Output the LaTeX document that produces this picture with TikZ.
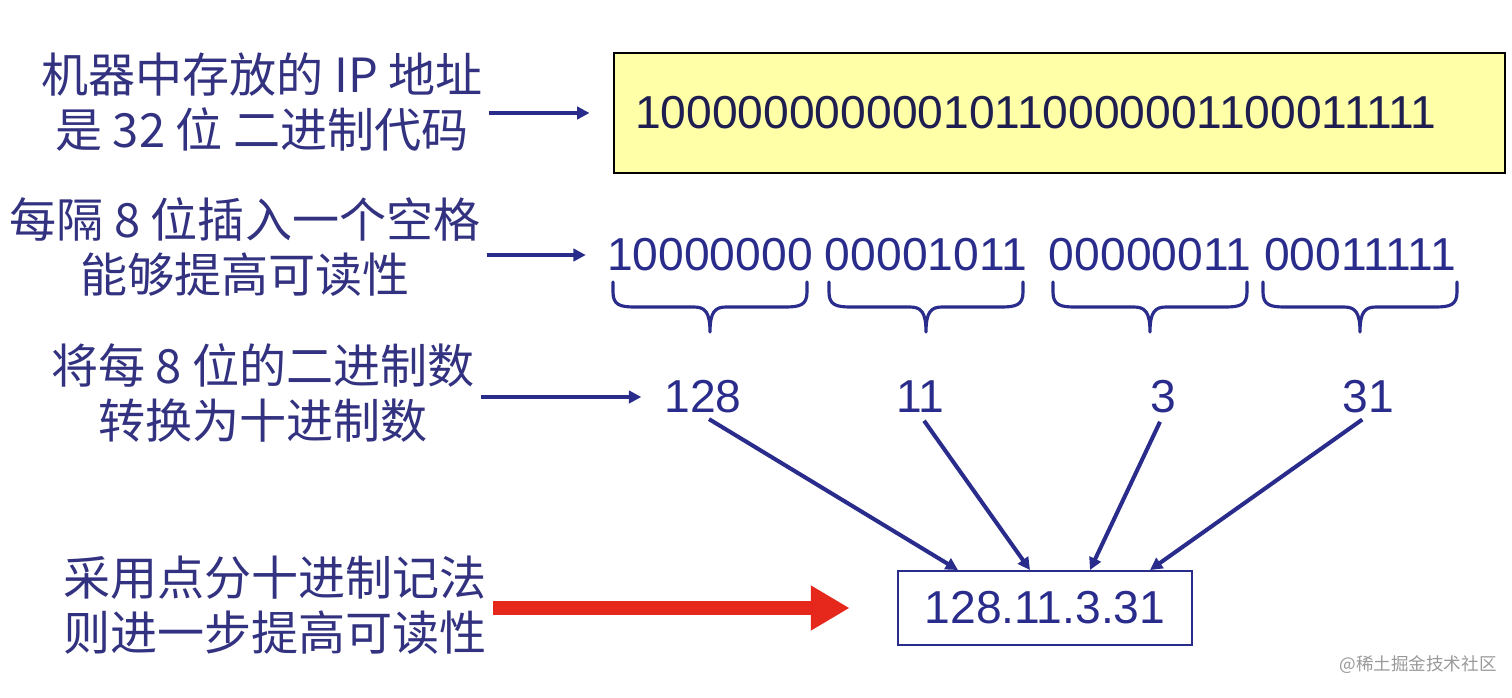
\documentclass[tikz,border=0pt]{standalone}
\usepackage{fontspec}
\setmainfont{Liberation Sans}
\newfontfamily\cjk{Noto Sans CJK SC}
\usetikzlibrary{arrows.meta,calc}
\definecolor{navy}{RGB}{42,44,140}
\definecolor{lbltext}{RGB}{50,50,128}
\definecolor{memo}{RGB}{255,255,168}
\definecolor{hot}{RGB}{230,40,28}
\begin{document}
\begin{tikzpicture}[x=0.02cm, y=-0.02cm,
    lbl/.style={align=center, text=lbltext, font=\cjk\fontsize{26.8}{31}\selectfont},
    bits/.style={text=navy, font=\fontsize{26.3}{30}\selectfont, inner sep=1pt},
    arr/.style={navy, line width=2.3pt, -{Triangle[length=7pt,width=7pt]}},
    brc/.style={navy, line width=1.8pt, line cap=round, line join=round}]
    \useasboundingbox (0,0) rectangle (1512,697);
    % left column
    \node[lbl] (lblstored) at (262,102) {机器中存放的 IP 地址\\是 32 位 二进制代码};
    \node[lbl] (lblspaced) at (245,247) {每隔 8 位插入一个空格\\能够提高可读性};
    \node[lbl] (lbldec) at (263,393) {将每 8 位的二进制数\\转换为十进制数};
    \node[lbl] (lbldot) at (275,605) {采用点分十进制记法\\则进一步提高可读性};
    % binary string
    \node[draw=black, line width=0.8pt, fill=memo, minimum height=2.4cm,
      text width=16.98cm, inner xsep=0.42cm, align=left,
      text={rgb,255:red,30;green,30;blue,80}, font=\fontsize{26.3}{30}\selectfont]
      (bin) at (1059.5,113) {10000000000010110000001100011111};
    % grouped bytes
    \foreach \g/\x/\v in {g1/710/10000000, g2/926/00001011,
        g3/1150/00000011, g4/1360/00011111} {
      \node[bits] (\g) at (\x,255) {\v};
      \draw[brc] ({\x-97},282) -- ({\x-97},292)
        .. controls ({\x-97},305) and ({\x-90},307) .. ({\x-75},307)
        -- ({\x-16},307) .. controls ({\x-5},307) and ({\x},312) .. (\x,332)
        .. controls ({\x},312) and ({\x+5},307) .. ({\x+16},307)
        -- ({\x+75},307) .. controls ({\x+90},307) and ({\x+97},305) .. ({\x+97},292)
        -- ({\x+97},282);
    }
    % decimal values
    \node[draw=navy, line width=1.1pt, fill=white, minimum width=5.88cm,
      minimum height=1.48cm, bits] (dotted) at (1045,608) {128.11.3.31};
    \foreach \n/\x/\v/\d in {n1/703/128/-87, n2/920/11/-15,
        n3/1163/3/45, n4/1368/31/105} {
      \node[bits] (\n) at (\x,397) {\v};
      \draw[arr, shorten <=4pt] (\n.south) -- ($(dotted.north)+(\d,0)$);
    }
    % connectors from the labels
    \draw[arr, shorten >=13.6pt] (lblstored.east |- bin.west) -- (bin.west);
    \draw[arr, shorten >=11pt] (lblspaced.east |- g1.west) -- (g1.west);
    \draw[arr, shorten >=12pt] (lbldec.east |- n1.west) -- (n1.west);
    \draw[hot, line width=8pt, shorten >=27pt,
      -{Triangle[length=22pt,width=24pt]}]
      (lbldot.east |- dotted.west) -- (dotted.west);
    \node[text=black!40, font=\cjk\fontsize{10}{12}\selectfont] (mark)
      at (1418,665) {@稀土掘金技术社区};
\end{tikzpicture}
\end{document}
